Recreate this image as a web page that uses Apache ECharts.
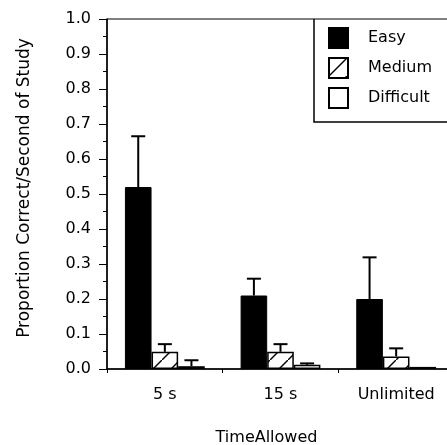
<!DOCTYPE html>
<html>
<head>
<meta charset="utf-8">
<script src="https://cdn.jsdelivr.net/npm/echarts@6/dist/echarts.min.js"></script>
<style>
html,body{margin:0;padding:0;background:#fff;}
#chart{width:447px;height:445px;}
</style>
</head>
<body>
<div id="chart"></div>
<script>
const categories = ['5 s', '15 s', 'Unlimited'];
const seriesNames = ['Easy', 'Medium', 'Difficult'];
const easy = [0.52, 0.21, 0.20];
const medium = [0.049, 0.049, 0.036];
const difficult = [0.008, 0.012, 0.006];
// upper end of error bars (mean + error)
const easyErrTop = [0.665, 0.258, 0.319];
const mediumErrTop = [0.071, 0.071, 0.059];
const difficultErrTop = [0.025, 0.016, null];
const yTicks = ['0.0','0.1','0.2','0.3','0.4','0.5','0.6','0.7','0.8','0.9','1.0'];

// hatch pattern for Medium
const pat = document.createElement('canvas');
pat.width = 18; pat.height = 18;
const pc = pat.getContext('2d');
pc.fillStyle = '#fff'; pc.fillRect(0, 0, 18, 18);
pc.strokeStyle = '#000'; pc.lineWidth = 1.4;
pc.beginPath();
pc.moveTo(-2, 20); pc.lineTo(20, -2);
pc.stroke();

const CAT_GAP = 0.31;
const errData = [];
[easyErrTop, mediumErrTop, difficultErrTop].forEach((arr, si) => {
  const means = [easy, medium, difficult][si];
  arr.forEach((top, ci) => {
    if (top != null) errData.push([ci, means[ci], top, si]);
  });
});

const chart = echarts.init(document.getElementById('chart'));
const font = 'DejaVu Sans';
chart.setOption({
  animation: false,
  backgroundColor: '#fff',
  grid: { left: 107, top: 19, bottom: 76, right: -7, containLabel: false, outerBoundsMode: 'none',
    show: true, borderColor: '#000', borderWidth: 1 },
  graphic: [{
    type: 'polyline', z: 1, silent: true,
    shape: { points: [[314, 19], [314, 122], [460, 122]] },
    style: { fill: null, stroke: '#000', lineWidth: 1.5 }
  }],
  legend: {
    left: 314, top: 19, z: 10,
    orient: 'vertical',
    data: seriesNames,
    icon: 'rect',
    itemWidth: 19, itemHeight: 20, itemGap: 8,
    padding: [8, 10, 10, 14],
    textStyle: { fontFamily: font, fontSize: 16, color: '#000', padding: [0, 0, 0, 15] }
  },
  xAxis: {
    type: 'category',
    data: categories,
    axisLine: { lineStyle: { color: '#000', width: 1.5 } },
    axisTick: { show: true, length: 4, lineStyle: { color: '#000' } },
    axisLabel: { fontFamily: font, fontSize: 16, color: '#000', margin: 18 },
    name: 'TimeAllowed',
    nameLocation: 'middle',
    nameGap: 61,
    nameTextStyle: { fontFamily: font, fontSize: 16, color: '#000', padding: [0, 28, 0, 0] }
  },
  yAxis: {
    type: 'value',
    min: 0, max: 1, interval: 0.1,
    axisLine: { show: true, lineStyle: { color: '#000', width: 1.5 } },
    axisTick: { show: true, length: 8, lineStyle: { color: '#000' } },
    minorTick: { show: true, splitNumber: 2, length: 4, lineStyle: { color: '#000' } },
    splitLine: { show: false },
    axisLabel: { fontFamily: font, fontSize: 16, color: '#000', margin: 16,
      formatter: (v) => yTicks[Math.round(v * 10)] },
    name: 'Proportion Correct/Second of Study',
    nameLocation: 'middle',
    nameGap: 74,
    nameTextStyle: { fontFamily: font, fontSize: 17, color: '#000', padding: [0, 0, 0, 12] }
  },
  series: [
    { name: 'Easy', type: 'bar', data: easy, barGap: '0%', barCategoryGap: (CAT_GAP * 100) + '%',
      itemStyle: { color: '#000', borderColor: '#000', borderWidth: 1 } },
    { name: 'Medium', type: 'bar', data: medium,
      itemStyle: { color: { image: pat, repeat: 'repeat' }, borderColor: '#000', borderWidth: 1.5 } },
    { name: 'Difficult', type: 'bar', data: difficult,
      itemStyle: { color: '#fff', borderColor: '#000', borderWidth: 1.5 } },
    {
      type: 'custom',
      z: 5,
      data: errData,
      renderItem: function (params, api) {
        const ci = api.value(0);
        const band = api.size([1, 0])[0];
        const bw = band * (1 - CAT_GAP) / 3;
        const center = api.coord([ci, 0])[0];
        const x = center + (api.value(3) - 1) * bw;
        const yLow = api.coord([ci, api.value(1)])[1];
        const yHigh = api.coord([ci, api.value(2)])[1];
        const cap = 7;
        return {
          type: 'group',
          children: [
            { type: 'line', shape: { x1: x, y1: yLow, x2: x, y2: yHigh }, style: { stroke: '#000', lineWidth: 2 } },
            { type: 'line', shape: { x1: x - cap, y1: yHigh, x2: x + cap, y2: yHigh }, style: { stroke: '#000', lineWidth: 2 } }
          ]
        };
      }
    }
  ]
});
</script>
</body>
</html>
